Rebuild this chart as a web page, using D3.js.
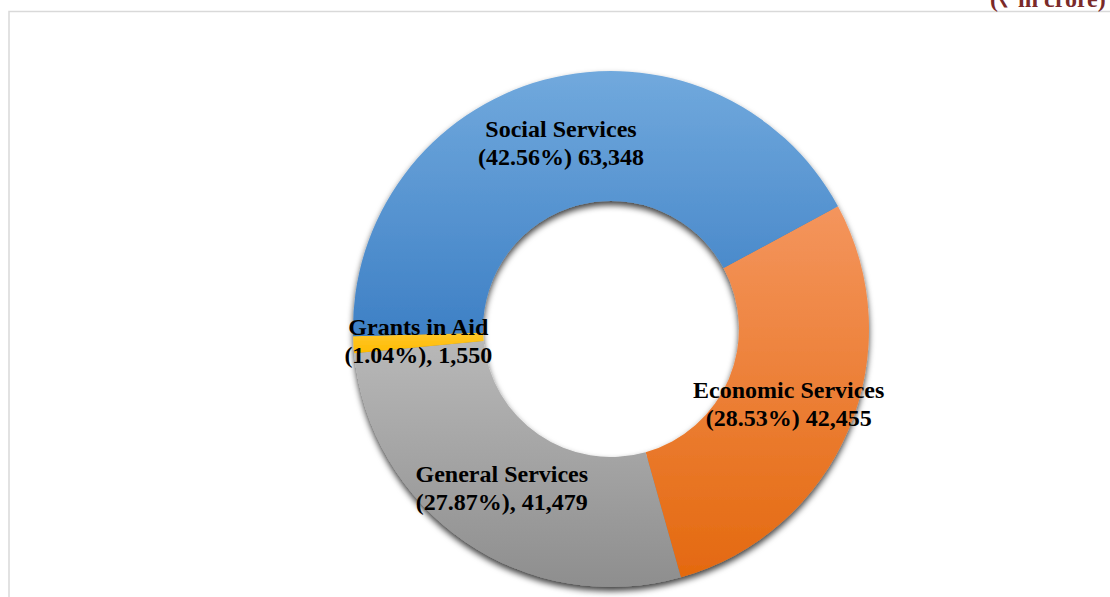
<!DOCTYPE html>
<html>
<head>
<meta charset="utf-8">
<script src="https://cdn.jsdelivr.net/npm/d3@7"></script>
<style>
  html, body { margin: 0; padding: 0; background: #ffffff; }
  svg { display: block; }
</style>
</head>
<body>
<svg id="chart" width="1110" height="597"></svg>
<script>
// Expenditure by sector, clockwise from the Economic Services slice
const categories = ["Economic Services", "General Services", "Grants in Aid", "Social Services"];
const amounts = [42455, 41479, 1550, 63348];
const percentLabels = ["(28.53%) 42,455", "(27.87%), 41,479", "(1.04%), 1,550", "(42.56%) 63,348"];
const unitLabel = "(\u20B9 in crore)";

const fills = [
  ["#f4955d", "#e4690f"],
  ["#b8b8b8", "#8e8e8e"],
  ["#ffc72a", "#ffbb00"],
  ["#71a9dd", "#3e80c5"]
];

const svg = d3.select("#chart");
const W = 1110, H = 597;
const cx = 611, cy = 329;
const outerR = 258, innerR = 128;
const serif = "'Liberation Serif', 'Times New Roman', Times, serif";

// chart frame
svg.append("rect")
  .attr("x", 9).attr("y", 11.5)
  .attr("width", W + 20).attr("height", H + 20)
  .attr("fill", "none")
  .attr("stroke", "#d9d9d9")
  .attr("stroke-width", 1.5);

// unit caption in the top-right corner
svg.append("text")
  .attr("x", 990).attr("y", 7)
  .attr("font-family", serif)
  .attr("font-weight", "bold")
  .attr("font-size", 24)
  .attr("fill", "#7a2a2a")
  .text(unitLabel);

const defs = svg.append("defs");

const shadow = defs.append("filter")
  .attr("id", "ringShadow")
  .attr("x", "-20%").attr("y", "-20%")
  .attr("width", "140%").attr("height", "140%");
shadow.append("feDropShadow")
  .attr("dx", 0).attr("dy", 4)
  .attr("stdDeviation", 3)
  .attr("flood-color", "#000")
  .attr("flood-opacity", 0.75);

fills.forEach((c, i) => {
  const g = defs.append("linearGradient")
    .attr("id", "grad" + i)
    .attr("x1", 0).attr("y1", 0).attr("x2", 0).attr("y2", 1);
  g.append("stop").attr("offset", "0%").attr("stop-color", c[0]);
  g.append("stop").attr("offset", "100%").attr("stop-color", c[1]);
});

const data = categories.map((name, i) => ({ name, value: amounts[i], label: percentLabels[i], idx: i }));

const startDeg = 61.6;
const pie = d3.pie()
  .value(d => d.value)
  .sort(null)
  .startAngle(startDeg * Math.PI / 180)
  .endAngle((startDeg + 360) * Math.PI / 180);

const arc = d3.arc().innerRadius(innerR).outerRadius(outerR);

const arcs = pie(data);

const ring = svg.append("g")
  .attr("transform", `translate(${cx},${cy})`)
  .attr("filter", "url(#ringShadow)");

ring.selectAll("path")
  .data(arcs)
  .join("path")
  .attr("d", arc)
  .attr("fill", d => `url(#grad${d.data.idx})`);

// labels at the middle of each segment
const labelG = svg.append("g").attr("transform", `translate(${cx},${cy})`);

arcs.forEach(d => {
  const [x, y] = arc.centroid(d);
  const t = labelG.append("text")
    .attr("text-anchor", "middle")
    .attr("font-family", serif)
    .attr("font-weight", "bold")
    .attr("font-size", 24)
    .attr("fill", "#000");
  t.append("tspan").attr("x", x).attr("y", y - 6).text(d.data.name);
  t.append("tspan").attr("x", x).attr("y", y + 22).text(d.data.label);
});
</script>
</body>
</html>
